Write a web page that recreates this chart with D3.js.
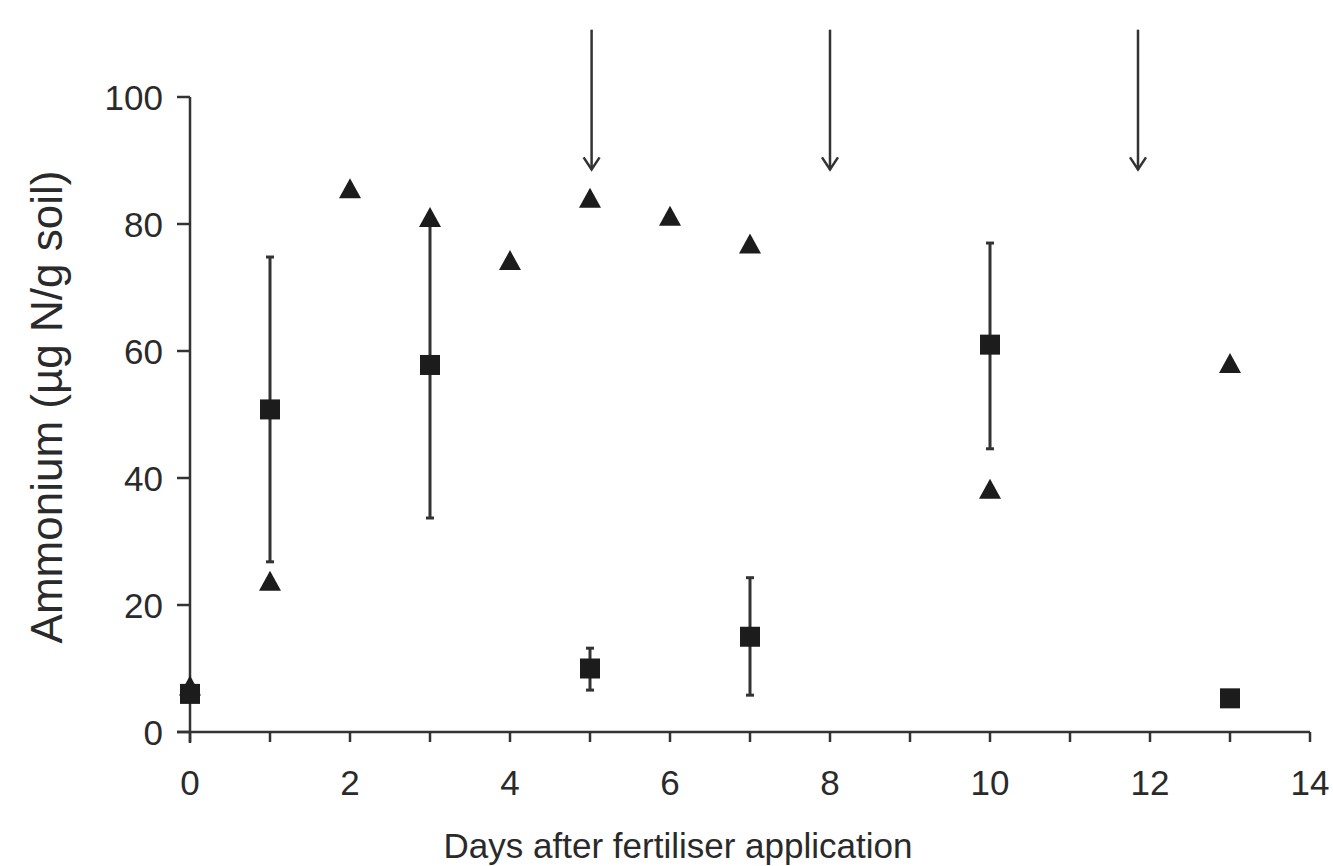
<!DOCTYPE html>
<html>
<head>
<meta charset="utf-8">
<script src="https://cdn.jsdelivr.net/npm/d3@7"></script>
<style>
  html, body { margin: 0; padding: 0; background: #fff; }
  svg { display: block; }
  text { font-family: "Liberation Sans", Arial, sans-serif; fill: #2a2a2a; }
</style>
</head>
<body>
<script>
// ---- data ----
const triangleDays   = [0, 1, 2, 3, 4, 5, 6, 7, 10, 13];
const triangleValues = [7, 23.5, 85.3, 80.8, 74, 83.8, 81, 76.6, 38, 57.8];

const squareDays   = [0, 1, 3, 5, 7, 10, 13];
const squareValues = [6, 50.8, 57.8, 10, 15, 61, 5.3];
const squareLow    = [null, 26.8, 33.7, 6.6, 5.8, 44.6, null];
const squareHigh   = [null, 74.8, 80.5, 13.2, 24.3, 77, null];

const arrowDays = [5.02, 8.0, 11.85];
const arrowTop  = 110.6;
const arrowTip  = 88.6;

const xTicks = [0,1,2,3,4,5,6,7,8,9,10,11,12,13,14];
const xTickLabels = [0, 2, 4, 6, 8, 10, 12, 14];
const yTicks = [0, 20, 40, 60, 80, 100];

const xTitle = "Days after fertiliser application";
const yTitle = "Ammonium (µg N/g soil)";

// ---- chart ----
const W = 1333, H = 866;
const svg = d3.select("body").append("svg").attr("width", W).attr("height", H);

const x = d3.scaleLinear().domain([0, 14]).range([190, 1310]);
const y = d3.scaleLinear().domain([0, 100]).range([732, 97]);

const lineCol = "#333";
const markCol = "#1c1c1c";

// axes lines
svg.append("line").attr("x1", x(0)).attr("x2", x(0)).attr("y1", y(100)).attr("y2", y(0) + 11)
  .attr("stroke", lineCol).attr("stroke-width", 2.5);
svg.append("line").attr("x1", x(0) - 13).attr("x2", x(14)).attr("y1", y(0)).attr("y2", y(0))
  .attr("stroke", lineCol).attr("stroke-width", 2.5);

// y ticks
svg.selectAll(".ytick").data(yTicks).enter().append("line")
  .attr("x1", x(0) - 13).attr("x2", x(0)).attr("y1", d => y(d)).attr("y2", d => y(d))
  .attr("stroke", lineCol).attr("stroke-width", 2.5);
svg.selectAll(".ylab").data(yTicks).enter().append("text")
  .attr("x", 163).attr("y", d => y(d)).attr("dy", "0.36em")
  .attr("text-anchor", "end").attr("font-size", 35).text(d => d);

// x ticks
svg.selectAll(".xtick").data(xTicks).enter().append("line")
  .attr("x1", d => x(d)).attr("x2", d => x(d)).attr("y1", y(0)).attr("y2", y(0) + 10)
  .attr("stroke", lineCol).attr("stroke-width", 2.5);
svg.selectAll(".xlab").data(xTickLabels).enter().append("text")
  .attr("x", d => x(d)).attr("y", 795)
  .attr("text-anchor", "middle").attr("font-size", 35).text(d => d);

// titles
svg.append("text").attr("x", 678).attr("y", 858)
  .attr("text-anchor", "middle").attr("font-size", 35).text(xTitle);
svg.append("text").attr("transform", `translate(62, ${407}) rotate(-90)`)
  .attr("text-anchor", "middle").attr("font-size", 44).text(yTitle);

// arrows
arrowDays.forEach(d => {
  svg.append("line").attr("x1", x(d)).attr("x2", x(d)).attr("y1", y(arrowTop)).attr("y2", y(arrowTip))
    .attr("stroke", lineCol).attr("stroke-width", 2.5);
  svg.append("path")
    .attr("d", `M${x(d) - 8},${y(arrowTip) - 12} L${x(d)},${y(arrowTip)} L${x(d) + 8},${y(arrowTip) - 12}`)
    .attr("fill", "none").attr("stroke", lineCol).attr("stroke-width", 2.5);
});

// error bars
const sq = squareDays.map((d, i) => ({ d, v: squareValues[i], lo: squareLow[i], hi: squareHigh[i] }));
sq.filter(p => p.lo !== null).forEach(p => {
  svg.append("line").attr("x1", x(p.d)).attr("x2", x(p.d)).attr("y1", y(p.lo)).attr("y2", y(p.hi))
    .attr("stroke", lineCol).attr("stroke-width", 3);
  [p.lo, p.hi].forEach(v => {
    svg.append("line").attr("x1", x(p.d) - 4).attr("x2", x(p.d) + 4).attr("y1", y(v)).attr("y2", y(v))
      .attr("stroke", lineCol).attr("stroke-width", 3);
  });
});

// squares
const s = 20;
svg.selectAll(".sq").data(sq).enter().append("rect")
  .attr("x", p => x(p.d) - s / 2).attr("y", p => y(p.v) - s / 2)
  .attr("width", s).attr("height", s).attr("fill", markCol);

// triangles
const tri = triangleDays.map((d, i) => ({ d, v: triangleValues[i] }));
const tw = 22, th = 20;
svg.selectAll(".tri").data(tri).enter().append("path")
  .attr("d", p => {
    const cx = x(p.d), cy = y(p.v);
    return `M${cx},${cy - th * 0.6} L${cx + tw / 2},${cy + th * 0.4} L${cx - tw / 2},${cy + th * 0.4} Z`;
  })
  .attr("fill", markCol);
</script>
</body>
</html>
